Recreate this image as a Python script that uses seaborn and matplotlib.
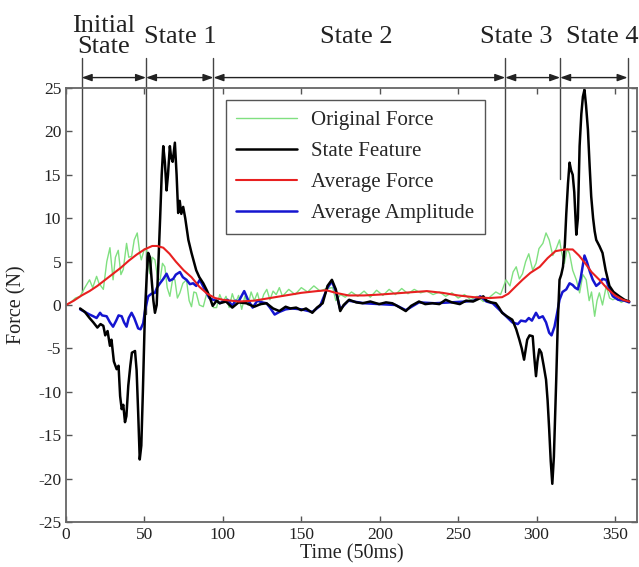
import numpy as np
import pandas as pd
import seaborn as sns
import matplotlib.pyplot as plt

# ---- data ----
green_x = [0, 3, 6, 9, 12, 15, 17, 19.5, 21, 23.8, 26, 28, 30, 31.5, 33.3, 35, 36.5, 38.6, 40, 41.8,
           43.5, 45.4, 47, 48, 50, 51.4, 53.5, 55, 56.7, 58.5, 60, 61.5, 63, 64.5, 66.2, 68, 69.4, 71,
           72.6, 74.5, 76.8, 78.5, 80, 81.5, 83, 85, 87.5, 89.5, 91.7, 94, 96, 98, 100, 102, 104, 106,
           108, 110, 112, 114, 116, 118, 120, 122, 124, 126, 128, 130, 132, 134, 136, 138, 142, 146,
           150, 154, 158, 162, 166, 170, 172, 175, 178, 182, 186, 190, 194, 198, 202, 206, 210, 214,
           218, 222, 226, 230, 234, 238, 242, 246, 250, 254, 258, 262, 266, 270, 274, 277, 280.5, 283,
           285, 287, 289, 291, 293, 295, 297.5, 299.6, 301.5, 304, 306, 308, 310.3, 312.5, 314.6, 316,
           317.7, 319.5, 321, 323, 325.3, 327.4, 329.5, 331.6, 333.5, 335, 337, 338.5, 340, 342, 344.4,
           346.5, 348.6, 351, 354, 357]
green_y = [0.0, 0.3, 0.8, 1.0, 2.0, 2.9, 2.0, 3.3, 2.5, 1.8, 5.0, 6.6, 2.9, 5.5, 6.3, 3.5, 4.1, 7.1, 5.5, 5.6,
           7.5, 8.3, 6.0, 5.2, 6.5, 6.3, 3.6, 5.5, 5.2, 3.0, 2.9, 4.8, 4.4, 2.0, 1.0, 3.0, 2.9, 0.8,
           1.4, 2.5, 2.9, 0.5, -0.2, 1.5, 1.4, 0.0, -0.2, 1.2, 1.0, -0.3, -0.3, 1.2, 0.3, 1.0, -0.3, 1.3,
           0.2, 1.1, -0.5, 1.0, 0.0, 1.5, 0.5, 1.4, 0.0, 1.2, 1.8, 0.6, 1.6, 1.2, 2.0, 1.0, 1.8, 1.2,
           2.0, 1.5, 2.2, 1.6, 1.9, 2.0, 0.5, 1.2, 0.9, 1.5, 1.0, 1.6, 0.9, 1.7, 1.1, 1.8, 1.2, 1.9,
           1.3, 1.8, 1.4, 1.6, 1.2, 1.5, 1.0, 1.4, 0.8, 1.2, 0.6, 1.0, 0.4, 0.9, 1.5, 1.2, 2.9, 2.2,
           3.8, 4.4, 3.0, 3.6, 5.0, 5.9, 4.0, 4.8, 6.5, 7.1, 8.3, 7.5, 5.7, 6.5, 7.5, 6.0,
           4.8, 6.5, 5.9, 4.0, 2.9, 1.4, 3.5, 2.9, 0.5, 1.5, -1.3, 0.5, 1.4, 0.0, 2.2,
           0.8, 0.6, 0.8, 0.3, 0.6]

black_x = [9, 12, 15, 17.4, 20, 22, 23.8, 25, 26.5, 28, 29, 30.5, 32.3, 33.5, 34.5, 35.5, 36.5, 37.6, 38.5,
           39.7, 41, 42, 44, 45, 46, 47, 48, 49, 50.3, 51.5, 52.4, 53.5, 54.6, 55.7, 56.7, 57.8, 58.8, 60,
           61, 62, 63, 64.1, 65, 66.2, 67, 68, 69.4, 70.5, 71.5, 72.5, 73.5, 74.7, 76, 76.8, 78, 80, 83,
           85, 87.5, 90, 91.4, 93.5, 96, 98, 102, 106, 110, 115, 120, 124, 127.8, 132, 136, 140, 143,
           146.7, 150, 153, 157, 160, 163.6, 166.7, 169.5, 172, 174.8, 177, 180.5, 185, 189, 194, 199.6,
           204, 208, 212, 216.6, 220, 225, 229, 233.6, 238, 242, 246, 251, 255, 259.5, 263, 266, 268,
           271, 274, 276, 278, 281, 284.5, 287, 289, 290.5, 292, 294, 295.5, 297.5, 298.5, 299.6, 300.5,
           301.7, 303, 304.5, 306, 307, 308, 309, 310, 311, 312.5, 313.5, 314.6, 315.7, 316.8, 318,
           318.9, 320, 321, 322, 323, 324, 325.3, 326.3, 327.4, 328.5, 329.5, 330.5, 331.5, 332.7,
           333.8, 334.8, 336, 337, 338, 340, 342, 344, 346.4, 349, 352.7, 356, 359]
black_y = [-0.4, -0.8, -1.5, -2.0, -2.6, -2.2, -2.4, -3.5, -3.0, -4.7, -4.0, -6.5, -7.4, -7.0, -10.5, -12.0,
           -11.5, -13.5, -12.8, -9.3, -7.0, -5.5, -5.3, -7.5, -12.4, -17.8, -16.2, -10.0, -0.9, 3.5, 6.0,
           5.5, 2.9, 0.5, -0.9, 0.0, 4.4, 10.0, 15.0, 18.3, 16.5, 13.2, 15.0, 18.3, 17.0, 16.5, 18.7, 15.0,
           10.6, 12.0, 10.5, 11.3, 10.0, 9.0, 7.5, 6.0, 4.0, 3.2, 2.5, 1.6, 1.0, -0.1, 0.5, 0.2, 0.4, -0.3,
           0.3, 0.2, -0.2, 0.1, 0.2, -0.4, -0.7, -0.2, -0.4, -0.3, -0.6, -0.4, -0.9, -0.3, 0.2, 2.2, 2.9,
           1.8, -0.7, 0.0, 0.6, 0.3, 0.2, 0.4, 0.1, 0.3, 0.2, -0.2, -0.7, -0.1, 0.4, 0.1, 0.2, 0.1, 0.6,
           0.3, 0.1, 0.5, 0.4, 0.7, 1.0, 0.5, 0.3, 0.2, -0.3, -0.9, -1.3, -1.7, -2.8, -4.0, -5.0, -6.3,
           -4.0, -3.5, -3.6, -6.0, -8.2, -6.5, -5.1, -5.5, -7.0, -8.6, -11.0, -14.3, -18.0, -20.6, -17.5,
           -8.6, -2.0, 2.9, 3.5, 4.4, 7.0, 10.5, 14.0, 16.4, 15.5, 15.0, 13.0, 8.1, 10.0, 18.3, 22.0, 24.0,
           24.8, 23.0, 20.2, 16.0, 12.5, 10.0, 8.5, 7.5, 6.8, 6.0, 4.0, 2.2, 1.5, 1.0, 0.6, 0.4]

red_x = [0, 5, 10, 15, 20, 25, 30, 35, 40, 45, 50, 55, 58, 62, 66, 70, 75, 80, 85, 90, 95, 100, 110, 120,
         130, 140, 150, 160, 166, 172, 180, 190, 200, 215, 230, 240, 250, 260, 270, 278, 282, 287, 291,
         296, 302, 307, 312, 318, 323, 327, 331, 335, 340, 345, 350, 355, 359]
red_y = [0.0, 0.5, 1.1, 1.6, 2.2, 2.9, 3.6, 4.3, 5.1, 5.8, 6.4, 6.8, 6.8, 6.6, 5.9, 5.0, 4.0, 3.2, 2.1, 1.3,
         0.8, 0.6, 0.4, 0.5, 0.8, 1.1, 1.4, 1.6, 1.7, 1.4, 1.1, 1.1, 1.2, 1.4, 1.6, 1.4, 1.1, 0.9, 0.8,
         0.9, 1.3, 2.2, 2.9, 3.7, 4.4, 5.4, 6.2, 6.4, 6.4, 5.7, 4.8, 3.8, 2.9, 1.9, 1.1, 0.6, 0.4]

blue_x = [9, 12, 15, 17.4, 19.5, 21.7, 23, 25.9, 28, 30, 32, 33.5, 35.5, 37, 38.6, 40, 41.8, 43.5, 46, 47.5,
          49.2, 50.5, 52.4, 54.5, 56.7, 58, 59.9, 62, 64.1, 66, 68.3, 70, 72.6, 74.5, 76.8, 79, 81, 83, 85.3,
          87, 89.6, 91.4, 93.8, 96, 98, 100, 103, 106, 108, 110, 113.6, 116, 119, 122, 125, 127.8, 130,
          133, 136, 140, 144, 150, 157, 162, 166.7, 169.5, 172, 174.8, 180, 190, 200, 210, 216.6, 225,
          235, 245, 255, 260, 264, 268, 272, 276, 280, 284.5, 288, 290, 293, 295, 297, 299.6, 301.5,
          303.9, 306, 308, 309.5, 311.4, 313, 314.6, 316.5, 318.9, 321, 323, 324.5, 326.3, 328, 330.5,
          332, 334, 335.8, 338, 340, 342, 344.4, 346.5, 348.6, 352, 356, 359]
blue_y = [-0.5, -0.8, -1.1, -1.3, -1.5, -0.9, -1.2, -1.3, -2.0, -2.5, -1.8, -1.2, -1.3, -2.0, -2.5, -1.5,
          -0.9, -1.5, -2.7, -2.8, -2.1, -0.5, 1.0, 1.3, 1.4, 2.0, 2.5, 3.0, 3.6, 2.8, 3.0, 3.5, 3.8, 3.2,
          2.9, 2.4, 2.5, 2.2, 2.9, 2.3, 1.4, 0.8, 0.6, 0.5, 0.2, 0.4, 0.6, -0.1, 0.5, 0.4, 1.6, 0.6, -0.3,
          0.5, 0.3, 0.2, -0.3, -1.1, -0.8, -0.5, -0.4, -0.5, -0.8, -0.1, 2.0, 2.7, 1.6, -0.5, 0.5, 0.2,
          0.1, 0.0, -0.6, 0.3, 0.2, 0.3, 0.4, 0.5, 1.0, 0.4, 0.2, -0.5, -1.2, -2.0, -2.2, -1.8, -1.9,
          -1.5, -1.8, -0.9, -1.5, -1.3, -2.0, -3.2, -3.5, -2.5, -1.0, 0.6, 1.5, 1.8, 2.5, 2.3, 2.0, 1.8,
          3.0, 5.7, 5.0, 3.8, 2.9, 2.2, 2.5, 3.0, 2.9, 1.8, 1.0, 0.6, 0.5, 0.3]

state_names = ["Initial\nState", "State 1", "State 2", "State 3", "State 4"]
state_label_x = [24, 73, 185, 287, 342]
state_bounds = [10, 51, 94, 280, 315, 358]
bound_bottoms = [1.5, -1.0, 1.0, 1.5, 14.5, 0.5]

sns.set_theme(style="ticks")
plt.rcParams["font.family"] = ["Liberation Serif", "DejaVu Serif"]
plt.rcParams["axes.unicode_minus"] = False

fig = plt.figure(figsize=(6.39, 5.67), dpi=100)
ax = fig.add_axes([0.1033, 0.0794, 0.8936, 0.7654])

sns.lineplot(x=green_x, y=green_y, ax=ax, color="#80E080", lw=1.0, label="Original Force")
sns.lineplot(x=blue_x, y=blue_y, ax=ax, color="#1515D0", lw=1.8, label="Average Amplitude")
sns.lineplot(x=black_x, y=black_y, ax=ax, color="black", lw=1.8, label="State Feature")
sns.lineplot(x=red_x, y=red_y, ax=ax, color="#E82020", lw=1.5, label="Average Force")

ax.set_xlim(0, 364)
ax.set_ylim(-25, 25)
ax.set_xticks(np.arange(0, 351, 50))
ax.set_yticks(np.arange(-25, 26, 5))
ax.tick_params(direction="in", top=True, right=True, length=4, width=1,
               color="#555555", labelsize=12.5, labelcolor="#222222")
for s in ax.spines.values():
    s.set_color("#666666")
    s.set_linewidth(1.3)

ax.set_xlabel("Time (50ms)", fontsize=14.5, labelpad=1, color="#222222")
ax.set_ylabel("Force (N)", fontsize=14.5, labelpad=8, color="#222222")

# state boundaries + arrows above the axes
arrow_y = 26.2
for xb, yb in zip(state_bounds, bound_bottoms):
    ax.plot([xb, xb], [yb, 28.5], color="#444444", lw=1.0, clip_on=False, zorder=1)
for x0, x1 in zip(state_bounds[:-1], state_bounds[1:]):
    ax.annotate("", xy=(x1, arrow_y), xytext=(x0, arrow_y), annotation_clip=False,
                arrowprops=dict(arrowstyle="<|-|>,head_length=0.5,head_width=0.18",
                                color="#222222", lw=1.0, shrinkA=0, shrinkB=0))
for name, xl in zip(state_names, state_label_x):
    ax.text(xl, 30.9, name, ha="center", va="center", fontsize=19,
            color="#222222", linespacing=0.95, clip_on=False)

handles, labels = ax.get_legend_handles_labels()
order = [labels.index(n) for n in ["Original Force", "State Feature", "Average Force", "Average Amplitude"]]
ax.legend([handles[i] for i in order], [labels[i] for i in order],
          loc="upper left", bbox_to_anchor=(0.28, 0.972), borderaxespad=0, fontsize=15,
          frameon=True, fancybox=False, edgecolor="#555555", framealpha=1, handlelength=2.9,
          handletextpad=0.7, labelspacing=0.55, borderpad=0.5)

fig.savefig("out.png", dpi=100)
